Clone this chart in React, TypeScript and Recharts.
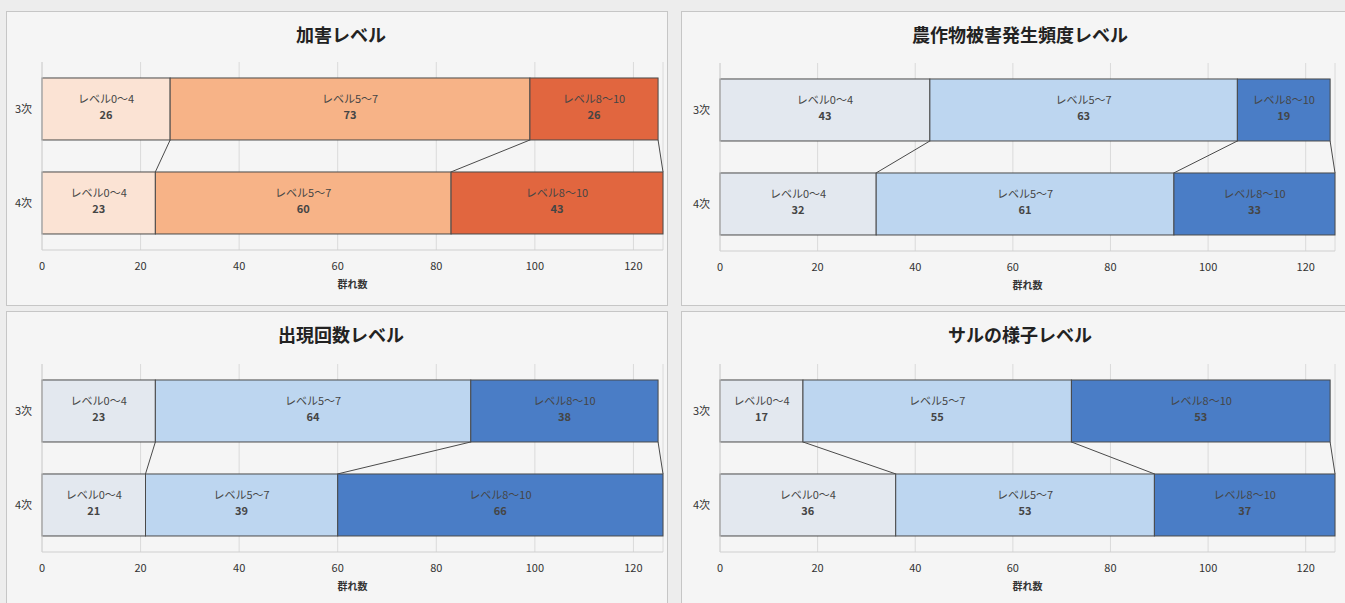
import React from 'react';
import {
  BarChart,
  Bar,
  XAxis,
  YAxis,
  CartesianGrid,
  LabelList
} from 'recharts';

const rounds = ['3次', '4次'];
const levels = ['レベル0～4', 'レベル5～7', 'レベル8～10'];
const levelKeys = ['l0', 'l1', 'l2'];
const xTicks = [0, 20, 40, 60, 80, 100, 120];

const damage3 = [26, 73, 26];
const damage4 = [23, 60, 43];
const crop3 = [43, 63, 19];
const crop4 = [32, 61, 33];
const appear3 = [23, 64, 38];
const appear4 = [21, 39, 66];
const monkey3 = [17, 55, 53];
const monkey4 = [36, 53, 37];

const orange = ['#fbe3d4', '#f7b387', '#e1663f'];
const blue = ['#e3e8ef', '#bdd6f0', '#4a7dc6'];

const FONT = '"Noto Sans CJK JP", "Noto Sans", sans-serif';
const GAP = 0.17;

const toRows = (a: number[], b: number[]) =>
  [a, b].map((vals, i) => {
    const row: any = { round: rounds[i] };
    levelKeys.forEach((k, j) => (row[k] = vals[j]));
    return row;
  });

// bar rect + Excel-style series line down to the next bar
const makeShape = (rows: any[], idx: number) => (props: any) => {
  const { x, y, width, height, fill, index } = props;
  const rect = (
    <rect x={x} y={y} width={width} height={height} fill={fill} stroke="#4a4a4a" strokeWidth={1} />
  );
  if (index !== 0) return rect;
  const r0 = rows[0];
  const r1 = rows[1];
  const k = width / r0[levelKeys[idx]];
  let start0 = 0;
  for (let j = 0; j < idx; j++) start0 += r0[levelKeys[j]];
  let end1 = 0;
  for (let j = 0; j <= idx; j++) end1 += r1[levelKeys[j]];
  const origin = x - start0 * k;
  const band = height / (1 - 2 * GAP);
  return (
    <g>
      {rect}
      <line
        x1={x + width}
        y1={y + height}
        x2={origin + end1 * k}
        y2={y + band}
        stroke="#4a4a4a"
        strokeWidth={1}
      />
    </g>
  );
};

const makeLabel = (rows: any[], idx: number) => (props: any) => {
  const { x, y, width, height, index } = props;
  const cx = x + width / 2;
  const cy = y + height / 2;
  const v = rows[index][levelKeys[idx]];
  return (
    <g>
      <text x={cx} y={cy - 6} textAnchor="middle" fontSize={11} fill="#454545" fontFamily={FONT}>
        {levels[idx]}
      </text>
      <text x={cx} y={cy + 10} textAnchor="middle" fontSize={11} fontWeight="bold" fill="#454545" fontFamily={FONT}>
        {v}
      </text>
    </g>
  );
};

interface PanelProps {
  title: string;
  a: number[];
  b: number[];
  colors: string[];
  left: number;
  top: number;
  width: number;
  height: number;
  titleX: number;
  chartLeft: number;
  marginLeft: number;
  marginTop: number;
}

function Panel(p: PanelProps) {
  const rows = toRows(p.a, p.b);
  return (
    <>
      <div
        style={{
          position: 'absolute',
          left: p.left,
          top: p.top,
          width: p.width,
          height: p.height,
          border: '1px solid #c6c6c6',
          background: '#f5f5f5',
          boxSizing: 'border-box'
        }}
      />
      <div
        style={{
          position: 'absolute',
          left: p.titleX - 200,
          width: 400,
          top: p.top + 10,
          textAlign: 'center',
          fontFamily: FONT,
          fontWeight: 'bold',
          fontSize: 18,
          color: '#222'
        }}
      >
        {p.title}
      </div>
      <div style={{ position: 'absolute', left: p.chartLeft, top: p.top }}>
        <BarChart
          width={669}
          height={290}
          layout="vertical"
          data={rows}
          barCategoryGap={`${GAP * 100}%`}
          margin={{ top: p.marginTop, right: 12, bottom: 290 - p.marginTop - 188 - 40, left: p.marginLeft }}
        >
          <CartesianGrid horizontal={false} stroke="#dadada" />
          <XAxis
            type="number"
            domain={[0, 126]}
            ticks={xTicks}
            interval={0}
            height={40}
            tickLine={false}
            tickMargin={6}
            axisLine={{ stroke: '#cfcfcf' }}
            tick={{ fontSize: 11, fill: '#333', fontFamily: FONT }}
            label={{ value: '群れ数', position: 'insideBottom', offset: 2, fontSize: 10, fill: '#333', fontWeight: 'bold', fontFamily: FONT }}
          />
          <YAxis
            type="category"
            dataKey="round"
            width={26}
            tickLine={false}
            tickMargin={4}
            axisLine={{ stroke: '#d4d4d4' }}
            tick={{ fontSize: 11, fill: '#333', fontFamily: FONT }}
          />
          {levelKeys.map((k, i) => (
            <Bar
              key={k}
              dataKey={k}
              stackId="s"
              fill={p.colors[i]}
              isAnimationActive={false}
              shape={makeShape(rows, i)}
            >
              <LabelList dataKey={k} content={makeLabel(rows, i)} />
            </Bar>
          ))}
        </BarChart>
      </div>
    </>
  );
}

export default function App() {
  return (
    <div
      style={{
        position: 'absolute',
        left: 0,
        top: 0,
        width: 1345,
        height: 603,
        overflow: 'hidden',
        background: '#ededed'
      }}
    >
      <Panel title="加害レベル" a={damage3} b={damage4} colors={orange}
        left={6} top={11} width={662} height={295} titleX={341}
        chartLeft={6} marginLeft={10} marginTop={51} />
      <Panel title="農作物被害発生頻度レベル" a={crop3} b={crop4} colors={blue}
        left={681} top={11} width={680} height={295} titleX={1020}
        chartLeft={678} marginLeft={16} marginTop={52} />
      <Panel title="出現回数レベル" a={appear3} b={appear4} colors={blue}
        left={6} top={311} width={662} height={300} titleX={341}
        chartLeft={6} marginLeft={10} marginTop={53} />
      <Panel title="サルの様子レベル" a={monkey3} b={monkey4} colors={blue}
        left={681} top={311} width={680} height={300} titleX={1020}
        chartLeft={678} marginLeft={16} marginTop={53} />
    </div>
  );
}
